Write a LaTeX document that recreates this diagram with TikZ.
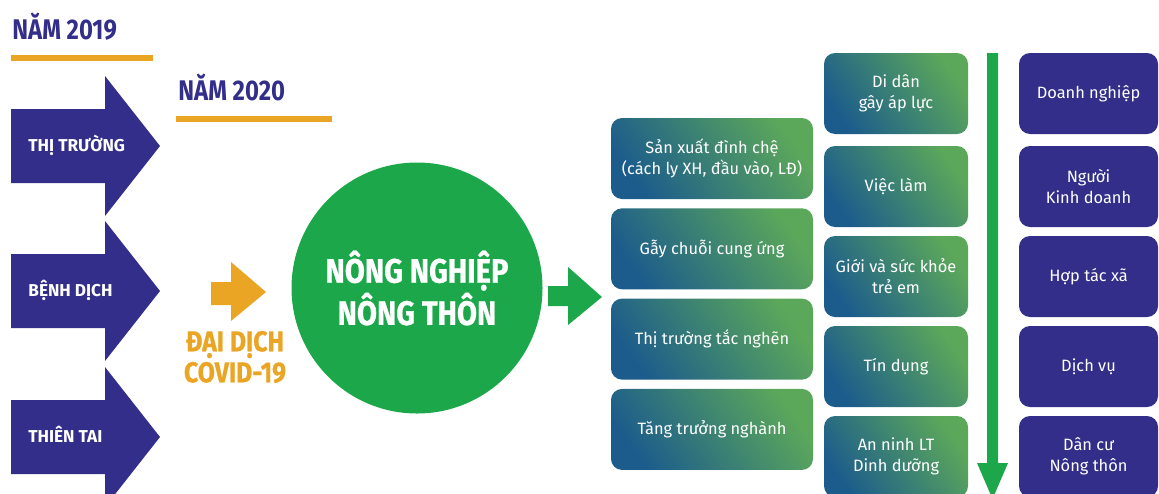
\documentclass[tikz,border=0pt]{standalone}
\usepackage{fontspec}
\setmainfont{Fira Sans}
\newfontfamily\narrowfont[FakeStretch=0.84]{Fira Sans}
\newfontfamily\heavyfont[FakeStretch=0.86, BoldFeatures={FakeBold=0.8}]{Fira Sans}

\definecolor{navy}{RGB}{50,46,137}
\definecolor{amber}{RGB}{234,165,36}
\definecolor{leaf}{RGB}{27,167,74}
\definecolor{deepblue}{RGB}{28,92,140}
\definecolor{sage}{RGB}{92,168,90}

\tikzset{
  year/.style={text=navy, inner sep=0pt, font=\narrowfont\bfseries\fontsize{14.2}{16}\selectfont},
  cause/.style={text=white, inner sep=0pt, font=\bfseries\fontsize{8.6}{10}\selectfont},
  covid/.style={text=amber, inner sep=0pt, align=center, font=\heavyfont\bfseries\fontsize{14.4}{15.5}\selectfont},
  hub/.style={circle, fill=leaf, minimum size=125.5pt, inner sep=0pt, text=white, align=center,
    font=\heavyfont\bfseries\fontsize{16.9}{17}\selectfont},
  impact/.style={rounded corners=5.5pt, inner sep=0pt, text=white, align=center,
    font=\fontsize{8.2}{10.5}\selectfont, minimum height=40.5pt,
    shade, top color=sage, bottom color=deepblue, shading angle=-55},
  actor/.style={rounded corners=5.5pt, fill=navy, inner sep=0pt, text=white, align=center,
    font=\fontsize{8.2}{10.5}\selectfont, minimum width=69.5pt, minimum height=40.5pt},
}

\begin{document}
\begin{tikzpicture}[x=0.5pt, y=-0.5pt]
  \useasboundingbox (0,0) rectangle (1159,493);
  \clip (0,0) rectangle (1159,493);

  % years
  \node[year, anchor=base west] (y2019) at (12,39) {NĂM 2019};
  \draw[amber, line width=2.8pt] (11,58) -- (153,58);
  \node[year, anchor=base west] (y2020) at (178,100) {NĂM 2020};
  \draw[amber, line width=2.8pt] (176,119) -- (332,119);

  % causes
  \foreach \y/\name/\txt in {146/market/THỊ TRƯỜNG, 291/epidemic/BỆNH DỊCH, 437/disaster/THIÊN TAI}{
    \fill[navy] (11,\y-37) -- (105,\y-37) -- (105,\y-70) -- (160,\y)
      -- (105,\y+70) -- (105,\y+37) -- (11,\y+37) -- cycle;
    \node[cause, anchor=base west] (\name) at (28,\y+5) {\txt};
  }

  % covid
  \fill[amber] (211,282) -- (231,282) -- (231,262) -- (266,292)
    -- (231,321) -- (231,305) -- (211,305) -- cycle;
  \node[covid] (covid) at (235,357) {ĐẠI DỊCH\\COVID-19};

  % agriculture
  \node[hub] (hub) at (417,288) {NÔNG NGHIỆP\\NÔNG THÔN};
  \fill[leaf] (548,286) -- (568,286) -- (568,267) -- (602,297)
    -- (568,325) -- (568,306) -- (548,306) -- cycle;

  % impacts
  \foreach \i/\txt in {0/{Sản xuất đình chệ\\(cách ly XH, đầu vào, LĐ)}, 1/Gẫy chuỗi cung ứng,
      2/Thị trường tắc nghẽn, 3/Tăng trưởng nghành}
    \node[impact, minimum width=101pt] (loss\i) at (712,158.5+90.3*\i) {\txt};

  \foreach \y/\name/\txt in {93.5/migrant/{Di dân\\gây áp lực}, 186.5/jobs/Việc làm,
      276.5/health/{Giới và sức khỏe\\trẻ em}, 366.5/credit/Tín dụng,
      456.5/food/{An ninh LT\\Dinh dưỡng}}
    \node[impact, minimum width=72pt] (\name) at (896,\y) {\txt};

  % downward arrow
  \fill[leaf] (987,53) -- (998,53) -- (998,463) -- (1008,463) -- (992.5,499)
    -- (977,463) -- (987,463) -- cycle;

  % actors
  \foreach \y/\name/\txt in {93.5/firm/Doanh nghiệp, 186.5/trader/{Người\\Kinh doanh},
      276.5/coop/Hợp tác xã, 366.5/service/Dịch vụ, 456.5/resident/{Dân cư\\Nông thôn}}
    \node[actor] (\name) at (1088.5,\y) {\txt};
\end{tikzpicture}
\end{document}
